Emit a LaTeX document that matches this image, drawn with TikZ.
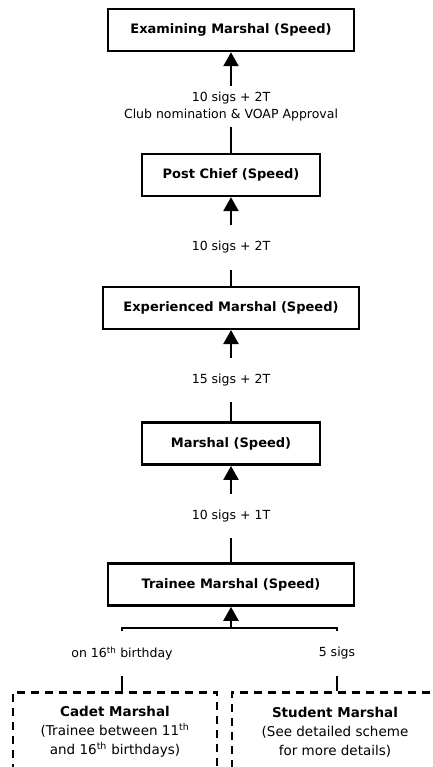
\documentclass[tikz,border=0pt]{standalone}
\usepackage{fontspec}
\setmainfont{DejaVu Sans}
\usetikzlibrary{arrows.meta, positioning}

\begin{document}
\begin{tikzpicture}[
    x=1pt, y=1pt,
    font=\fontsize{12.5}{17}\selectfont,
    stage/.style={draw, line width=2.5pt, align=center, minimum height=42pt, font=\fontsize{13}{17}\selectfont\bfseries},
    route/.style={align=center, minimum height=44pt, inner sep=0pt},
    entry/.style={draw, dash pattern=on 8pt off 6pt, line width=2.5pt, align=center, anchor=north, minimum height=80pt, font=\fontsize{13.5}{19}\selectfont},
    link/.style={line width=2.5pt},
    up/.style={link, -{Triangle[width=15pt, length=14pt]}}
]
    \useasboundingbox (0,0) rectangle (432,-767);

    % Speed stages, top to bottom
    \node[stage, minimum width=246pt] (examining) at (231,-30) {Examining Marshal (Speed)};
    \node[route, minimum height=40pt, below=34pt of examining] (toexamining) {10 sigs + 2T\\Club nomination \& VOAP Approval};
    \node[stage, minimum width=178pt, below=26pt of toexamining] (postchief) {Post Chief (Speed)};
    \node[route, below=28pt of postchief] (topostchief) {10 sigs + 2T};
    \node[stage, minimum width=256pt, below=16pt of topostchief] (experienced) {Experienced Marshal (Speed)};
    \node[route, below=28pt of experienced] (toexperienced) {15 sigs + 2T};
    \node[stage, minimum width=178pt, below=19pt of toexperienced] (marshal) {Marshal (Speed)};
    \node[route, below=28pt of marshal] (tomarshal) {10 sigs + 1T};
    \node[stage, minimum width=246pt, below=24pt of tomarshal] (trainee) {Trainee Marshal (Speed)};

    % Entry routes
    \coordinate[below=21pt of trainee] (join);
    \node[route] (tocadet) at (122,-653.5) {on 16\textsuperscript{th} birthday};
    \node[route] (tostudent) at (337,-653.5) {5 sigs};
    \node[entry, minimum width=204pt] (cadet) at (115,-691) {\textbf{Cadet Marshal}\\(Trainee between 11\textsuperscript{th}\\and 16\textsuperscript{th} birthdays)};
    \node[entry, minimum width=206pt] (student) at (335,-691) {\textbf{Student Marshal}\\(See detailed scheme\\for more details)};

    % Arrows
    \draw[up] (toexamining) -- (examining);
    \draw[link] (postchief) -- (toexamining);
    \draw[up] (topostchief) -- (postchief);
    \draw[link] (experienced) -- (topostchief);
    \draw[up] (toexperienced) -- (experienced);
    \draw[link] (marshal) -- (toexperienced);
    \draw[up] (tomarshal) -- (marshal);
    \draw[link] (trainee) -- (tomarshal);
    \draw[up] (join) -- (trainee);
    \draw[link] (tocadet) |- (join) -| (tostudent);
    \draw[link] (tocadet) -- (tocadet |- cadet.north);
    \draw[link] (tostudent) -- (tostudent |- student.north);

\end{tikzpicture}
\end{document}
